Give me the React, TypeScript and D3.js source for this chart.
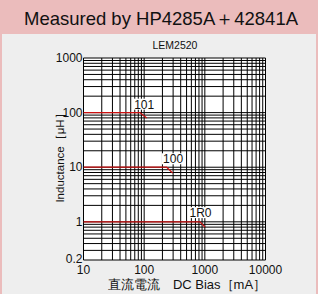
import { useEffect, useRef } from 'react'
import * as d3 from 'd3'

// DC bias (mA) vs inductance (uH)
const curveNames = ['101', '100', '1R0']
const biasL101 = [10, 30, 85, 110]
const indL101 = [100, 100, 100, 80]
const biasL100 = [10, 60, 235, 295]
const indL100 = [10, 10, 10, 7.8]
const biasL1R0 = [10, 100, 830, 1010]
const indL1R0 = [1, 1, 1, 0.8]
const labelPos = [
  [100, 118],
  [300, 11.8],
  [850, 1.22],
]

const xTicks = [10, 100, 1000, 10000]
const yTicks = [0.2, 1, 10, 100, 1000]

const FONT = '"Liberation Sans", Arial, Helvetica, sans-serif'

function App() {
  const svgRef = useRef(null)

  useEffect(() => {
    if (!svgRef.current) return
    const W = 318
    const H = 294
    const svg = d3.select(svgRef.current)
    svg.selectAll('*').remove()

    // card background and header band
    svg.append('rect').attr('width', W).attr('height', H).attr('fill', '#ebbcbc')
    svg.append('rect').attr('x', 2).attr('y', 34).attr('width', W - 4).attr('height', H - 34).attr('fill', '#eeeeee')
    svg
      .append('text')
      .attr('x', W / 2 + 2)
      .attr('y', 25)
      .attr('text-anchor', 'middle')
      .attr('font-family', FONT)
      .attr('font-size', 18.5)
      .attr('fill', '#111')
      .text('Measured by HP4285A＋42841A')

    svg
      .append('text')
      .attr('x', 175)
      .attr('y', 49)
      .attr('text-anchor', 'middle')
      .attr('font-family', FONT)
      .attr('font-size', 10.5)
      .attr('fill', '#111')
      .text('LEM2520')

    const left = 83.5
    const right = 265.5
    const top = 58
    const bottom = 260

    const x = d3.scaleLog().domain([10, 10000]).range([left, right])
    const y = d3.scaleLog().domain([0.2, 1000]).range([bottom, top])

    svg.append('rect').attr('x', left).attr('y', top).attr('width', right - left).attr('height', bottom - top).attr('fill', '#fff')

    // grid: 1..9 per decade
    const xGrid = []
    for (let d = 10; d < 10000; d *= 10) for (let k = 1; k < 10; k++) xGrid.push(d * k)
    xGrid.push(10000)
    const yGrid = []
    for (let k = 2; k < 10; k++) yGrid.push(k / 10)
    for (let d = 1; d < 1000; d *= 10) for (let k = 1; k < 10; k++) yGrid.push(d * k)
    yGrid.push(1000)

    const grid = svg.append('g').attr('stroke', '#000').attr('stroke-width', 1)
    grid
      .selectAll('.vx')
      .data(xGrid)
      .enter()
      .append('line')
      .attr('x1', (d) => x(d))
      .attr('x2', (d) => x(d))
      .attr('y1', top)
      .attr('y2', bottom)
    grid
      .selectAll('.hy')
      .data(yGrid)
      .enter()
      .append('line')
      .attr('x1', left)
      .attr('x2', right)
      .attr('y1', (d) => y(d))
      .attr('y2', (d) => y(d))

    // curves
    const series = [
      biasL101.map((b, i) => [b, indL101[i]]),
      biasL100.map((b, i) => [b, indL100[i]]),
      biasL1R0.map((b, i) => [b, indL1R0[i]]),
    ]
    const line = d3
      .line()
      .x((d) => x(d[0]))
      .y((d) => y(d[1]))
    svg
      .selectAll('.curve')
      .data(series)
      .enter()
      .append('path')
      .attr('d', (d) => line(d))
      .attr('fill', 'none')
      .attr('stroke', '#cc1111')
      .attr('stroke-width', 1.3)

    // curve labels with white backing
    curveNames.forEach((name, i) => {
      const cx = x(labelPos[i][0])
      const cy = y(labelPos[i][1])
      const w = name.length * 7 + 2
      svg.append('rect').attr('x', cx - w / 2).attr('y', cy - 10).attr('width', w).attr('height', 11).attr('fill', '#fff')
      svg
        .append('text')
        .attr('x', cx)
        .attr('y', cy)
        .attr('text-anchor', 'middle')
        .attr('font-family', FONT)
        .attr('font-size', 12)
        .attr('fill', '#111')
        .text(name)
    })

    // tick labels
    svg
      .selectAll('.yt')
      .data(yTicks)
      .enter()
      .append('text')
      .attr('x', left - 1)
      .attr('y', (d) => y(d) + (d === 0.2 ? 3 : 4))
      .attr('text-anchor', 'end')
      .attr('font-family', FONT)
      .attr('font-size', 12)
      .attr('fill', '#111')
      .text((d) => String(d))
    svg
      .selectAll('.xt')
      .data(xTicks)
      .enter()
      .append('text')
      .attr('x', (d) => x(d))
      .attr('y', bottom + 14)
      .attr('text-anchor', 'middle')
      .attr('font-family', FONT)
      .attr('font-size', 12)
      .attr('fill', '#111')
      .text((d) => String(d))

    // axis titles
    svg
      .append('text')
      .attr('transform', `translate(64,${(top + bottom) / 2 - 4}) rotate(-90)`)
      .attr('text-anchor', 'middle')
      .attr('font-family', FONT)
      .attr('font-size', 11.5)
      .attr('fill', '#111')
      .text('Inductance［μH］')
    svg
      .append('text')
      .attr('x', 187)
      .attr('y', 289)
      .attr('text-anchor', 'middle')
      .attr('font-family', FONT)
      .attr('font-size', 13)
      .attr('fill', '#111')
      .text('直流電流　DC Bias［mA］')
  }, [])

  return <svg ref={svgRef} width={318} height={294} style={{ position: 'absolute', left: 0, top: 0 }}></svg>
}

export default App
